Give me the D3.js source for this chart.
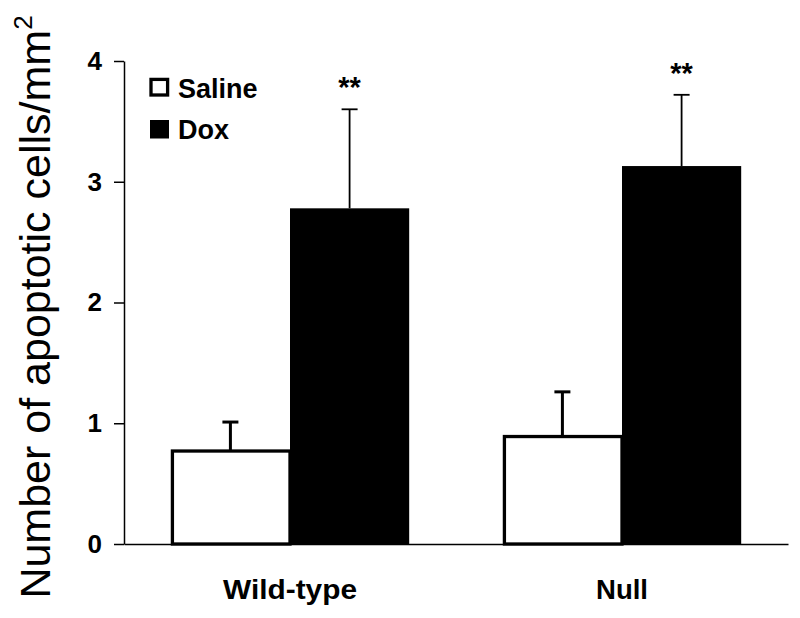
<!DOCTYPE html>
<html>
<head>
<meta charset="utf-8">
<script src="https://cdn.jsdelivr.net/npm/d3@7"></script>
<style>
  html, body { margin: 0; padding: 0; background: #fff; }
  svg { display: block; font-family: "Liberation Sans", Arial, Helvetica, sans-serif; }
</style>
</head>
<body>
<svg id="chart" width="800" height="618"></svg>
<script>
// ---- data ----
const groups = ["Wild-type", "Null"];
const treatments = ["Saline", "Dox"];
const salineMeans = [0.77, 0.89];
const salineErrors = [0.24, 0.37];
const doxMeans = [2.78, 3.13];
const doxErrors = [0.82, 0.59];
const significance = ["**", "**"];
const yTicks = [0, 1, 2, 3, 4];

const rows = [];
groups.forEach((g, i) => {
  rows.push({ group: g, treatment: "Saline", mean: salineMeans[i], err: salineErrors[i], sig: null });
  rows.push({ group: g, treatment: "Dox", mean: doxMeans[i], err: doxErrors[i], sig: significance[i] });
});

const svg = d3.select("#chart");
const plotLeft = 124, plotRight = 788, plotTop = 61, plotBottom = 544;

const x0 = d3.scaleBand().domain(groups).range([plotLeft, plotRight]).paddingInner(0.282).paddingOuter(0.141);
const x1 = d3.scaleBand().domain(treatments).range([0, x0.bandwidth()]).padding(0);
const y = d3.scaleLinear().domain([0, 4]).range([plotBottom, plotTop]);

// bars
const bars = svg.append("g");
bars.selectAll("rect")
  .data(rows)
  .join("rect")
  .attr("x", d => x0(d.group) + x1(d.treatment) + (d.treatment === "Saline" ? 1.6 : 0))
  .attr("y", d => y(d.mean))
  .attr("width", d => x1.bandwidth() - (d.treatment === "Saline" ? 1.6 : 0))
  .attr("height", d => y(0) - y(d.mean))
  .attr("fill", d => d.treatment === "Saline" ? "#fff" : "#000")
  .attr("stroke", "#000")
  .attr("stroke-width", d => d.treatment === "Saline" ? 3.3 : 0);

// error bars (upper only)
const eb = svg.append("g");
rows.forEach(d => {
  const cx = x0(d.group) + x1(d.treatment) + x1.bandwidth() / 2;
  const sw = d.treatment === "Saline" ? 3 : 1.8;
  eb.append("line")
    .attr("x1", cx).attr("x2", cx)
    .attr("y1", y(d.mean)).attr("y2", y(d.mean + d.err))
    .attr("stroke", "#000").attr("stroke-width", sw);
  eb.append("line")
    .attr("x1", cx - 8).attr("x2", cx + 8)
    .attr("y1", y(d.mean + d.err)).attr("y2", y(d.mean + d.err))
    .attr("stroke", "#000").attr("stroke-width", sw);
  if (d.sig) {
    eb.append("text")
      .attr("x", cx)
      .attr("y", y(d.mean + d.err) - 12)
      .attr("text-anchor", "middle")
      .attr("font-size", 29)
      .attr("font-weight", "bold")
      .text(d.sig);
  }
});

// y axis
const yAxis = d3.axisLeft(y).tickValues(yTicks).tickFormat(d3.format("d")).tickSize(10).tickSizeOuter(0).tickPadding(12);
const gy = svg.append("g").attr("transform", `translate(${plotLeft},0)`).call(yAxis);
gy.select(".domain").attr("stroke", "#000").attr("stroke-width", 1.5);
gy.selectAll(".tick line").attr("stroke", "#000").attr("stroke-width", 1.5);
gy.selectAll(".tick text").attr("font-size", 26).attr("font-weight", "bold").attr("fill", "#000")
  .attr("font-family", '"Liberation Sans", Arial, sans-serif');

// x axis
const xAxis = d3.axisBottom(x0).tickSize(0).tickSizeOuter(0).tickPadding(35);
const gx = svg.append("g").attr("transform", `translate(0,${plotBottom})`).call(xAxis);
gx.select(".domain").attr("stroke", "#000").attr("stroke-width", 1.5);
gx.selectAll(".tick text").attr("font-size", 28).attr("font-weight", "bold").attr("fill", "#000")
  .attr("font-family", '"Liberation Sans", Arial, sans-serif')
  .attr("textLength", d => d === "Wild-type" ? 134 : 52)
  .attr("lengthAdjust", "spacingAndGlyphs");

// y title
const yt = svg.append("text")
  .attr("transform", "translate(50,307) rotate(-90)")
  .attr("text-anchor", "middle")
  .attr("font-size", 43)
  .attr("fill", "#000");
yt.append("tspan").text("Number of apoptotic cells/mm");
yt.append("tspan").attr("font-size", 26).attr("dy", -18).text("2");

// legend
const legend = svg.append("g");
legend.append("rect").attr("x", 151).attr("y", 79.4).attr("width", 16.6).attr("height", 15.6)
  .attr("fill", "#fff").attr("stroke", "#000").attr("stroke-width", 3.3);
legend.append("rect").attr("x", 150).attr("y", 120).attr("width", 19).attr("height", 18.5)
  .attr("fill", "#000");
legend.append("text").attr("x", 178).attr("y", 98).attr("font-size", 27).attr("font-weight", "bold").text(treatments[0]);
legend.append("text").attr("x", 178).attr("y", 139).attr("font-size", 27).attr("font-weight", "bold").text(treatments[1]);
</script>
</body>
</html>
